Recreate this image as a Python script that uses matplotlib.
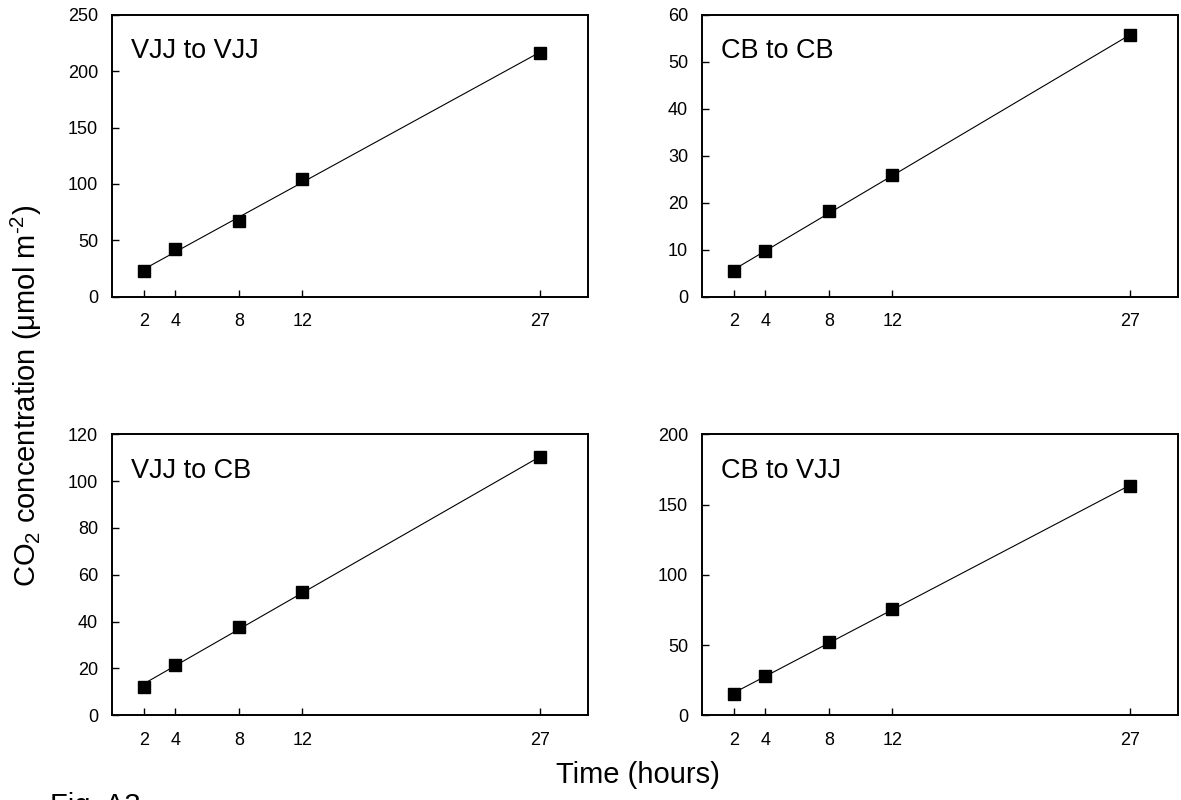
import matplotlib
matplotlib.use("Agg")
import numpy as np
import matplotlib.pyplot as plt

plt.rcParams["font.family"] = ["Liberation Sans", "DejaVu Sans"]
plt.rcParams["mathtext.fontset"] = "custom"
plt.rcParams["mathtext.rm"] = "Liberation Sans"
plt.rcParams["mathtext.it"] = "Liberation Sans:italic"

# data
hours = [2, 4, 8, 12, 27]
vjj_to_vjj = [23.1, 42.3, 66.9, 104.5, 216.5]
cb_to_cb = [5.4, 9.7, 18.2, 26.0, 55.6]
vjj_to_cb = [12.1, 21.6, 37.7, 52.5, 110.2]
cb_to_vjj = [14.9, 27.8, 52.0, 75.9, 163.5]

titles = ["VJJ to VJJ", "CB to CB", "VJJ to CB", "CB to VJJ"]
series = [vjj_to_vjj, cb_to_cb, vjj_to_cb, cb_to_vjj]
y_max = [250, 60, 120, 200]
y_step = [50, 10, 20, 50]

# axes positions in figure fractions: left, bottom, width, height
positions = [
    [0.0948, 0.629, 0.403, 0.3525],
    [0.5944, 0.629, 0.403, 0.3525],
    [0.0948, 0.106, 0.403, 0.351],
    [0.5944, 0.106, 0.403, 0.351],
]

fig = plt.figure(figsize=(11.81, 8.0), dpi=100)

for pos, title, vals, ymax, step in zip(positions, titles, series, y_max, y_step):
    ax = fig.add_axes(pos)
    # linear fit line drawn between first and last sampling time
    slope, icpt = np.polyfit(hours, vals, 1)
    xs = np.array([hours[0], hours[-1]])
    ax.plot(xs, slope * xs + icpt, color="black", linewidth=0.8, zorder=2)
    ax.plot(hours, vals, linestyle="none", marker="s", markersize=8.5,
            markerfacecolor="black", markeredgecolor="black", zorder=3)
    ax.set_xlim(0, 30)
    ax.set_ylim(0, ymax)
    ax.set_xticks(hours)
    ax.set_yticks(range(0, ymax + 1, step))
    ax.tick_params(direction="in", length=5, width=1.0, labelsize=13,
                   colors="black")
    ax.tick_params(axis="y", pad=10)
    ax.tick_params(axis="x", pad=12)
    for sp in ax.spines.values():
        sp.set_linewidth(1.4)
    ax.text(0.04, 0.87, title, transform=ax.transAxes, fontsize=19.5,
            ha="left", va="center")

fig.text(0.022, 0.505, r"CO$_2$ concentration (μmol m$^{\text{-2}}$)", rotation=90,
         ha="center", va="center", fontsize=21)
fig.text(0.540, 0.031, "Time (hours)", ha="center", va="center", fontsize=21)
fig.text(0.042, 0.010, "Fig. A3", ha="left", va="top", fontsize=21)

fig.savefig("out.png", dpi=100)
